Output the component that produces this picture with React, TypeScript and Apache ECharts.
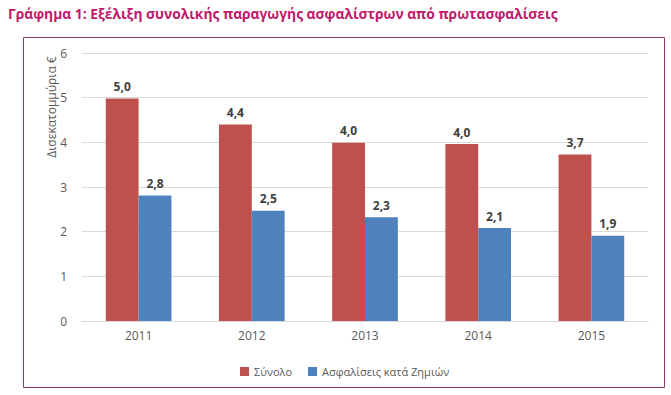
import React, { useEffect, useRef } from "react";
import * as echarts from "echarts";

const titleText = "Γράφημα 1: Εξέλιξη συνολικής παραγωγής ασφαλίστρων από πρωτασφαλίσεις";
const axisTitle = "Δισεκατομμύρια €";
const years = ["2011", "2012", "2013", "2014", "2015"];
const seriesNames = ["Σύνολο", "Ασφαλίσεις κατά Ζημιών"];
const totalValues = [4.98, 4.4, 3.99, 3.96, 3.73];
const nonLifeValues = [2.81, 2.47, 2.32, 2.08, 1.91];

const FONT = "'Open Sans', 'Noto Sans', sans-serif";

export default function App() {
  const ref = useRef<HTMLDivElement>(null);
  useEffect(() => {
    if (!ref.current) return;
    const chart = echarts.init(ref.current, undefined, { renderer: "svg" });
    const fmt = (p: any) => Number(p.value).toFixed(1).replace(".", ",");
    const labelStyle = {
      show: true,
      position: "top" as const,
      distance: 6,
      formatter: fmt,
      color: "#404040",
      fontWeight: "bold" as const,
      fontSize: 12,
      fontFamily: FONT,
    };
    chart.setOption({
      animation: false,
      textStyle: { fontFamily: FONT },
      graphic: [
        {
          type: "text",
          left: 8,
          top: 6,
          style: {
            text: titleText,
            fill: "#C0186A",
            font: `bold 13.8px ${FONT}`,
          },
        },
        {
          type: "rect",
          shape: { x: 23.5, y: 37.5, width: 641, height: 350 },
          style: { fill: "none", stroke: "#8E3B6C", lineWidth: 1 },
          silent: true,
        },
        {
          type: "text",
          x: 51,
          y: 107,
          rotation: Math.PI / 2,
          style: {
            text: axisTitle,
            fill: "#595959",
            font: `12px ${FONT}`,
            align: "center",
            verticalAlign: "middle",
          },
        },
      ],
      legend: {
        left: 235,
        top: 361,
        itemWidth: 9,
        itemHeight: 9,
        itemGap: 16,
        icon: "rect",
        textStyle: { color: "#595959", fontSize: 11, fontFamily: FONT },
        data: seriesNames,
      },
      grid: { left: 82, right: 23, top: 53, bottom: 74, containLabel: false },
      xAxis: {
        type: "category",
        data: years,
        axisLine: { show: true, lineStyle: { color: "#D9D9D9" } },
        axisTick: { show: false },
        axisLabel: { color: "#595959", fontSize: 12, margin: 8, fontFamily: FONT },
      },
      yAxis: {
        type: "value",
        min: 0,
        max: 6,
        interval: 1,
        axisLine: { show: false },
        axisTick: { show: false },
        axisLabel: { color: "#595959", fontSize: 12, margin: 15, fontFamily: FONT },
        splitLine: { lineStyle: { color: "#D9D9D9" } },
      },
      series: [
        {
          name: seriesNames[0],
          type: "bar",
          data: totalValues,
          barWidth: "29%",
          barGap: "0%",
          itemStyle: { color: "#C0504D" },
          label: labelStyle,
        },
        {
          name: seriesNames[1],
          type: "bar",
          data: nonLifeValues,
          barWidth: "29%",
          barGap: "0%",
          itemStyle: { color: "#4F81BD" },
          label: labelStyle,
        },
      ],
    });
    return () => chart.dispose();
  }, []);
  return (
    <div
      ref={ref}
      style={{ position: "absolute", left: 0, top: 0, width: 671, height: 395, background: "#fff" }}
    />
  );
}
